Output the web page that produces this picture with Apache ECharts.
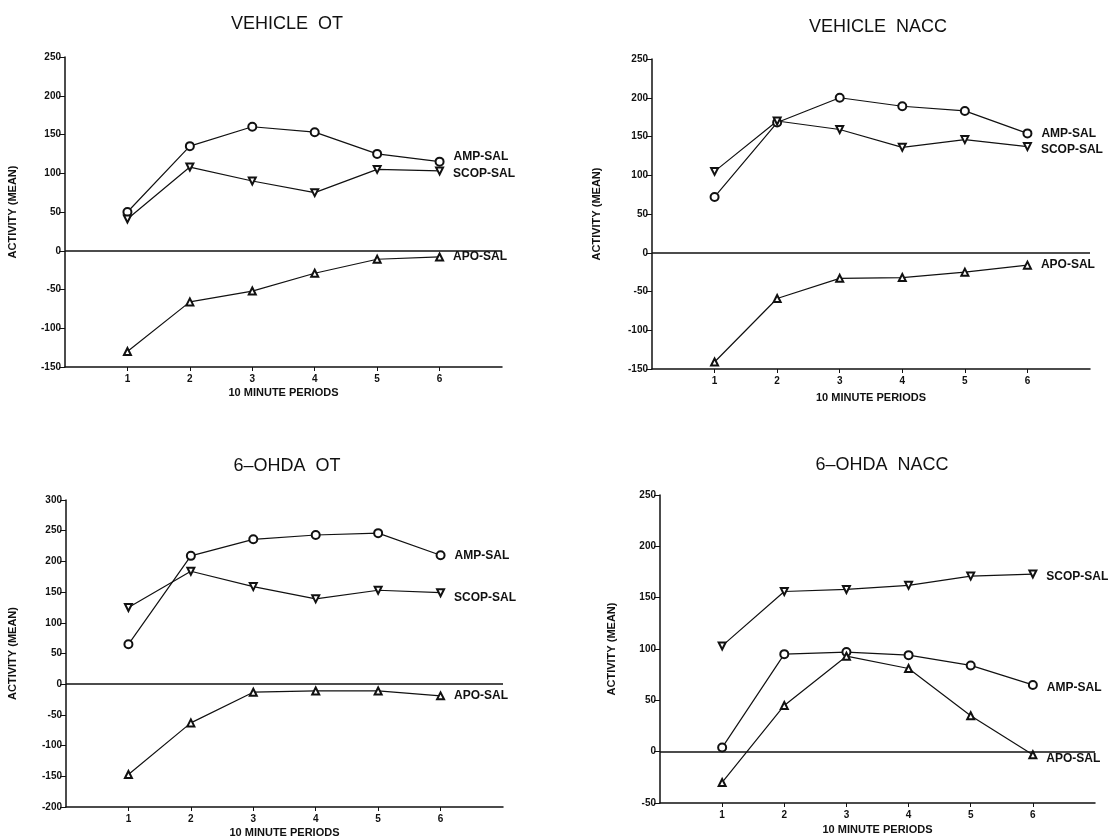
<!DOCTYPE html>
<html>
<head>
<meta charset="utf-8">
<script src="https://cdn.jsdelivr.net/npm/echarts@6/dist/echarts.min.js"></script>
<style>
  html, body { margin: 0; padding: 0; background: #fff; }
  #chart { width: 1117px; height: 839px; }
</style>
</head>
<body>
<div id="chart"></div>
<script>
// 10 minute periods
const periods = [1, 2, 3, 4, 5, 6];

// VEHICLE OT
const vehOtAmp = [50, 135, 160, 153, 125, 115];
const vehOtScop = [41, 108, 90, 75, 105, 103];
const vehOtApo = [-130, -66, -52, -29, -11, -8];

// VEHICLE NACC
const vehNaccAmp = [72, 168, 200, 189, 183, 154];
const vehNaccScop = [105, 170, 159, 136, 146, 137];
const vehNaccApo = [-141, -59, -33, -32, -25, -16];

// 6-OHDA OT
const ohdaOtAmp = [65, 209, 236, 243, 246, 210];
const ohdaOtScop = [125, 184, 159, 139, 153, 149];
const ohdaOtApo = [-147, -63, -13, -11, -11, -19];

// 6-OHDA NACC
const ohdaNaccAmp = [4, 95, 97, 94, 84, 65];
const ohdaNaccScop = [103, 156, 158, 162, 171, 173];
const ohdaNaccApo = [-30, 45, 93, 81, 35, -3];

const panelTitles = ["VEHICLE  OT", "VEHICLE  NACC", "6–OHDA  OT", "6–OHDA  NACC"];
const yRanges = [[-150, 250], [-150, 250], [-200, 300], [-50, 250]];

const FONT = "'Liberation Sans', Arial, sans-serif";
const INK = "#111";

// layout of each panel (pixels)
const panels = [
  { grid: { left: 65, top: 57, width: 437, height: 310 }, titleX: 282, titleY: 10, yGap: 47, xGap: 20,
    amp: vehOtAmp, scop: vehOtScop, apo: vehOtApo, offs: { amp: -5, scop: 3, apo: 0 } },
  { grid: { left: 652, top: 59, width: 438, height: 310 }, titleX: 873, titleY: 13, yGap: 50, xGap: 23,
    amp: vehNaccAmp, scop: vehNaccScop, apo: vehNaccApo, offs: { amp: 0, scop: 3, apo: 0 } },
  { grid: { left: 66, top: 500, width: 437, height: 307 }, titleX: 282, titleY: 452, yGap: 48, xGap: 20,
    amp: ohdaOtAmp, scop: ohdaOtScop, apo: ohdaOtApo, offs: { amp: 0, scop: 5, apo: 0 } },
  { grid: { left: 660, top: 495, width: 435, height: 308 }, titleX: 877, titleY: 451, yGap: 43, xGap: 21,
    amp: ohdaNaccAmp, scop: ohdaNaccScop, apo: ohdaNaccApo, offs: { amp: 3, scop: 3, apo: 4 } }
];

function makeData(values, name, dy) {
  return periods.map(function (p, i) {
    if (i === periods.length - 1) {
      return {
        value: [p, values[i]],
        label: {
          show: true, position: "right", distance: 9, offset: [0, dy],
          formatter: name, color: INK, fontFamily: FONT, fontWeight: "bold", fontSize: 12
        }
      };
    }
    return [p, values[i]];
  });
}

const titles = [], grids = [], xAxes = [], yAxes = [], series = [];

panels.forEach(function (pn, k) {
  titles.push({
    text: panelTitles[k], left: pn.titleX, top: pn.titleY, textAlign: "center",
    textStyle: { fontFamily: FONT, fontWeight: "normal", fontSize: 18, color: INK }
  });
  grids.push(pn.grid);
  xAxes.push({
    gridIndex: k, type: "value", min: 0, max: 7, interval: 1,
    name: "10 MINUTE PERIODS", nameLocation: "middle", nameGap: pn.xGap,
    nameTextStyle: { fontFamily: FONT, fontWeight: "bold", fontSize: 11, color: INK },
    axisLine: { onZero: false, lineStyle: { color: INK, width: 1.5 } },
    axisTick: { customValues: periods, length: 4, lineStyle: { color: INK } },
    axisLabel: { customValues: periods, margin: 7, fontFamily: FONT, fontWeight: "bold", fontSize: 10, color: INK },
    splitLine: { show: false }
  });
  yAxes.push({
    gridIndex: k, type: "value", min: yRanges[k][0], max: yRanges[k][1], interval: 50,
    name: "ACTIVITY (MEAN)", nameLocation: "middle", nameGap: pn.yGap, nameRotate: 90,
    nameTextStyle: { fontFamily: FONT, fontWeight: "bold", fontSize: 11, color: INK },
    axisLine: { show: true, onZero: false, lineStyle: { color: INK, width: 1.5 } },
    axisTick: { show: true, length: 6, lineStyle: { color: INK } },
    axisLabel: { margin: 4, fontFamily: FONT, fontWeight: "bold", fontSize: 10, color: INK },
    splitLine: { show: false }
  });

  const common = {
    type: "line", xAxisIndex: k, yAxisIndex: k, symbolSize: 8,
    lineStyle: { color: INK, width: 1.2 }, itemStyle: { color: INK, borderColor: INK, borderWidth: 1 },
    animation: false, silent: true
  };
  series.push(Object.assign({}, common, {
    name: "AMP-SAL", symbol: "emptyCircle", data: makeData(pn.amp, "AMP-SAL", pn.offs.amp),
    markLine: {
      silent: true, symbol: "none", label: { show: false },
      lineStyle: { color: INK, width: 1.5, type: "solid" },
      data: [{ yAxis: 0 }]
    }
  }));
  series.push(Object.assign({}, common, {
    name: "SCOP-SAL", symbol: "emptyTriangle", symbolRotate: 180, symbolSize: 7,
    data: makeData(pn.scop, "SCOP-SAL", pn.offs.scop)
  }));
  series.push(Object.assign({}, common, {
    name: "APO-SAL", symbol: "emptyTriangle", symbolSize: 7,
    data: makeData(pn.apo, "APO-SAL", pn.offs.apo)
  }));
});

const chart = echarts.init(document.getElementById("chart"));
chart.setOption({
  backgroundColor: "#fff",
  animation: false,
  title: titles,
  grid: grids,
  xAxis: xAxes,
  yAxis: yAxes,
  series: series
});
</script>
</body>
</html>
